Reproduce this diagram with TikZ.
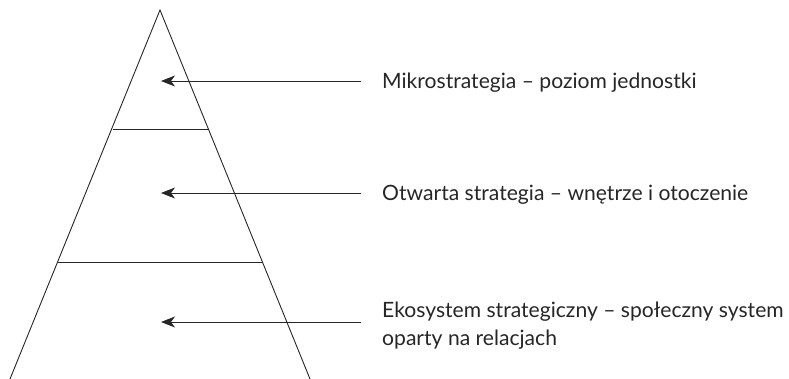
\documentclass[tikz,border=0pt]{standalone}
\usepackage{fontspec}
\setmainfont{Lato}
\usetikzlibrary{arrows.meta}
\begin{document}
\begin{tikzpicture}[x=1pt,y=-1pt,
  edge/.style={line width=0.9pt,black!85},
  pointer/.style={line width=0.9pt,black!85,-{Stealth[length=14pt,width=11pt,inset=4pt]}},
  label/.style={anchor=base west,inner sep=0pt,font=\fontsize{21.1}{28}\selectfont,text=black!85,align=left}]
\useasboundingbox (0,0) rectangle (789,378);
\coordinate (apex) at (160,10);
\coordinate (bl) at (10,379);
\coordinate (br) at (310,379);
\draw[edge] (bl) -- (apex) -- (br);
\coordinate (l1a) at (112.5,129);
\coordinate (l1b) at (208.5,129);
\coordinate (l2a) at (58,262);
\coordinate (l2b) at (263,262);
\draw[edge] (l1a) -- (l1b);
\draw[edge] (l2a) -- (l2b);
\coordinate (t1) at (161,81);
\coordinate (t2) at (161,193);
\coordinate (t3) at (161,322);
\coordinate (s1) at (361,81);
\coordinate (s2) at (361,193);
\coordinate (s3) at (361,322);
\draw[pointer] (s1) -- (t1);
\draw[pointer] (s2) -- (t2);
\draw[pointer] (s3) -- (t3);
\node[label] (m1) at (382,88) {Mikrostrategia – poziom jednostki};
\node[label] (m2) at (382,200) {Otwarta strategia – wnętrze i otoczenie};
\node[label,anchor=north west] (m3) at (382,301.5) {Ekosystem strategiczny – społeczny system\\oparty na relacjach};
\end{tikzpicture}
\end{document}
